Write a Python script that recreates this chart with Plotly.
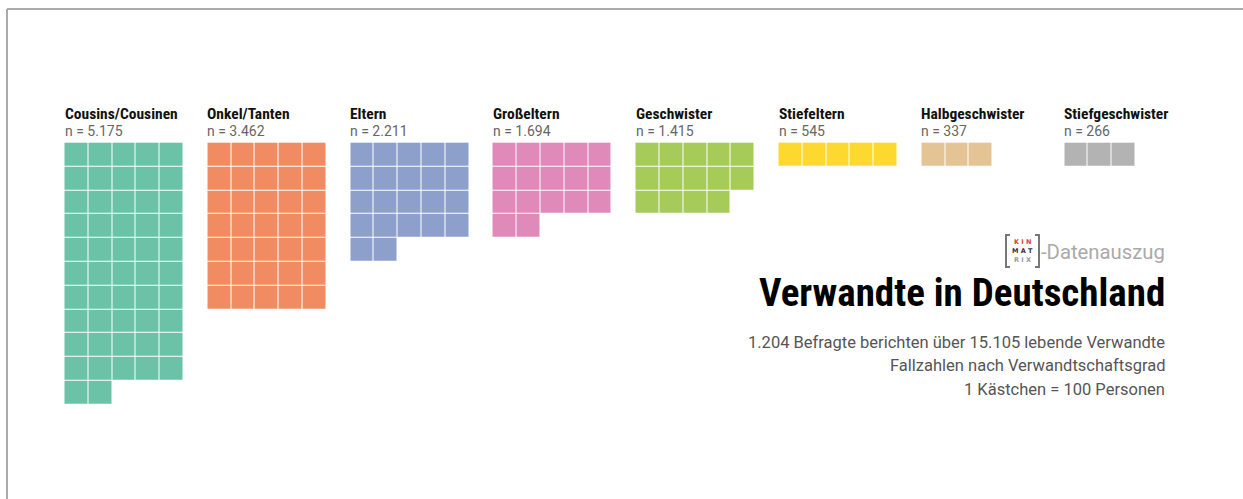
import plotly.graph_objects as go

categories = ["Cousins/Cousinen", "Onkel/Tanten", "Eltern", "Großeltern",
              "Geschwister", "Stiefeltern", "Halbgeschwister", "Stiefgeschwister"]
counts = [5175, 3462, 2211, 1694, 1415, 545, 337, 266]
count_labels = ["n = 5.175", "n = 3.462", "n = 2.211", "n = 1.694",
                "n = 1.415", "n = 545", "n = 337", "n = 266"]
colors = ["#6bc2a6", "#f18c62", "#8da0cb", "#e08aba",
          "#a7cb58", "#fdd92f", "#e4c494", "#b3b3b3"]
per_square = 100
cols_per_group = 5
title = "Verwandte in Deutschland"
subtitle = ["1.204 Befragte berichten über 15.105 lebende Verwandte",
            "Fallzahlen nach Verwandtschaftsgrad",
            "1 Kästchen = 100 Personen"]

W, H = 1243, 499
COND = "Roboto Condensed, Liberation Sans Narrow, Roboto, sans-serif"
REG = "Roboto, sans-serif"

squares = [int(round(c / per_square)) for c in counts]
n_groups = len(categories)
n_cols = n_groups * (cols_per_group + 1) - 1
n_rows = max((s + cols_per_group - 1) // cols_per_group for s in squares)

z = [[None] * n_cols for _ in range(n_rows)]
for g, s in enumerate(squares):
    for i in range(s):
        r, k = divmod(i, cols_per_group)
        z[r][g * (cols_per_group + 1) + k] = g

cs = []
for i, c in enumerate(colors):
    cs.append([i / n_groups, c])
    cs.append([(i + 1) / n_groups, c])

fig = go.Figure(go.Heatmap(
    z=z, x=list(range(n_cols)), y=list(range(n_rows)),
    colorscale=cs, zmin=-0.5, zmax=n_groups - 0.5,
    xgap=1, ygap=1, showscale=False, hoverinfo="skip"))

pitch = 23.8
x0_px, y0_px = 64.5, 142.7
xr = [(0 - x0_px) / pitch - 0.5, (W - x0_px) / pitch - 0.5]
yr = [(H - y0_px) / pitch - 0.5, (0 - y0_px) / pitch - 0.5]

def py(p):
    return 1 - p / H

def px(p):
    return p / W

ann = []
for g, cat in enumerate(categories):
    xg = g * (cols_per_group + 1) - 0.5
    ann.append(dict(x=xg, y=py(114), xref="x", yref="paper", text="<b>%s</b>" % cat,
                    xanchor="left", yanchor="middle", showarrow=False, xshift=-2,
                    font=dict(family=COND, size=15.5, color="#111")))
    ann.append(dict(x=xg, y=py(131), xref="x", yref="paper", text=count_labels[g],
                    xanchor="left", yanchor="middle", showarrow=False, xshift=-2,
                    font=dict(family=REG, size=14, color="#666")))

ann.append(dict(x=px(1165), y=py(293), xref="paper", yref="paper", text="<b>%s</b>" % title,
                xanchor="right", yanchor="middle", showarrow=False, xshift=2,
                font=dict(family=COND, size=39, color="#000")))
for i, line in enumerate(subtitle):
    ann.append(dict(x=px(1165), y=py(342 + 23.5 * i), xref="paper", yref="paper", text=line,
                    xanchor="right", yanchor="middle", showarrow=False, xshift=2,
                    font=dict(family=REG, size=16.5, color="#555")))
ann.append(dict(x=px(1165), y=py(252), xref="paper", yref="paper", text="-Datenauszug",
                xanchor="right", yanchor="middle", showarrow=False, xshift=2,
                font=dict(family=REG, size=20.3, color="#aaa")))
logo = [("K I N", "#e03c3c", 242), ("M A T", "#333", 251), ("R I X", "#999", 260)]
for t, c, yy in logo:
    ann.append(dict(x=px(1022.5), y=py(yy), xref="paper", yref="paper", text="<b>%s</b>" % t,
                    xanchor="center", yanchor="middle", showarrow=False,
                    font=dict(family="DejaVu Sans", size=6.5, color=c)))

shapes = [
    dict(type="line", xref="paper", yref="paper", x0=px(7), x1=1, y0=py(9), y1=py(9),
         line=dict(color="#aaa", width=2)),
    dict(type="line", xref="paper", yref="paper", x0=px(7), x1=px(7), y0=0, y1=py(9),
         line=dict(color="#aaa", width=2)),
    dict(type="path", xref="paper", yref="paper",
         path="M %f %f L %f %f L %f %f L %f %f" % (px(1010), py(235), px(1006), py(235),
                                                  px(1006), py(267), px(1010), py(267)),
         line=dict(color="#777", width=2)),
    dict(type="path", xref="paper", yref="paper",
         path="M %f %f L %f %f L %f %f L %f %f" % (px(1035), py(235), px(1039), py(235),
                                                  px(1039), py(267), px(1035), py(267)),
         line=dict(color="#777", width=2)),
]

fig.update_layout(
    width=W, height=H, margin=dict(l=0, r=0, t=0, b=0),
    paper_bgcolor="white", plot_bgcolor="white",
    xaxis=dict(range=xr, visible=False, fixedrange=True),
    yaxis=dict(range=yr, visible=False, fixedrange=True),
    annotations=ann, shapes=shapes, showlegend=False)

fig.write_html("out.html", config={"displayModeBar": False},
               post_script="document.body.style.margin='0';")
